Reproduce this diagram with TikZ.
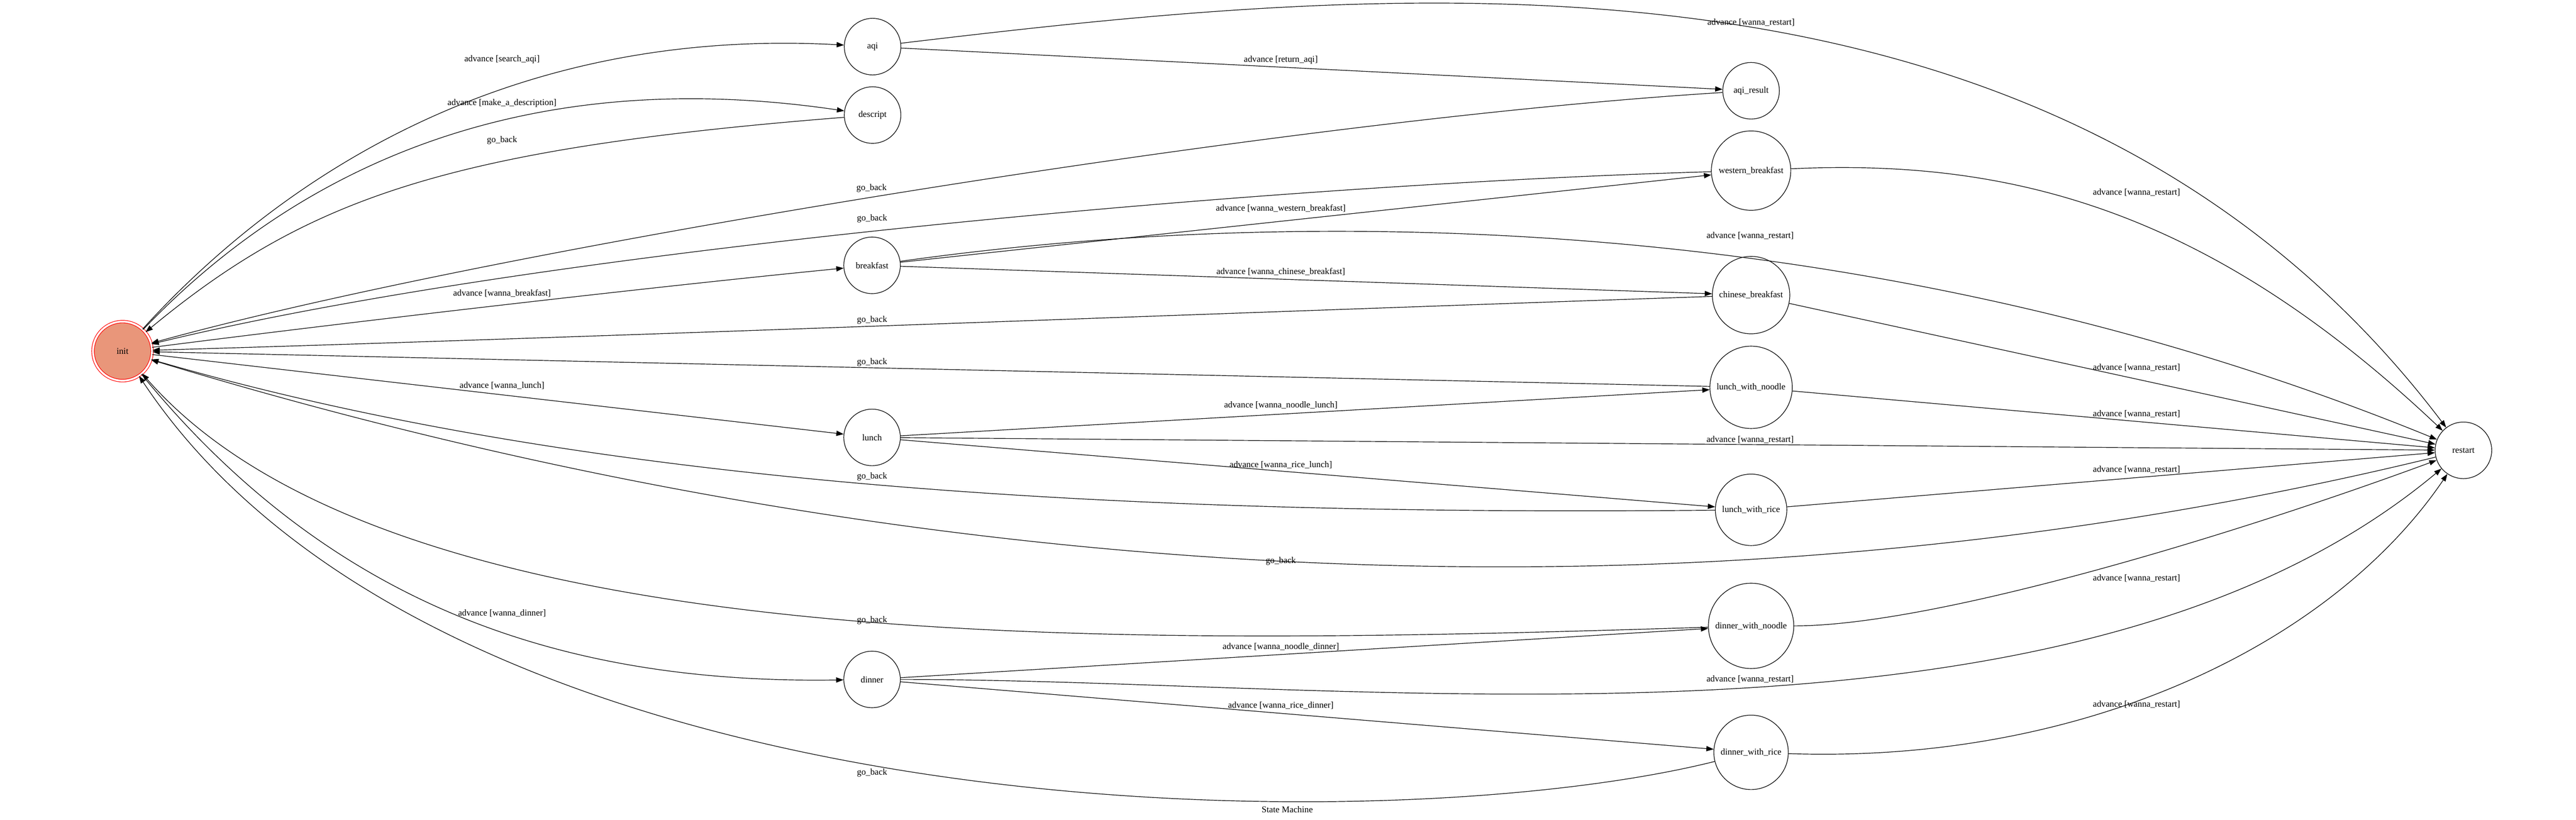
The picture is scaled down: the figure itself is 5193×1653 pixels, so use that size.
\documentclass[tikz,border=0pt]{standalone}
\usepackage{fontspec}
\setmainfont{Liberation Serif}
\usetikzlibrary{arrows.meta}
\definecolor{darksalmon}{RGB}{233,150,122}

\begin{document}
\begin{tikzpicture}[x=0.01cm,y=-0.01cm,line width=0.35pt,
                    >={Triangle[length=4.2pt,width=3pt]},
                    state node/.style={circle,draw,inner sep=0pt,font=\fontsize{5.1}{6}\selectfont},
                    init node/.style={state node,draw=red,fill=darksalmon,double=white,double distance=1.1pt},
                    edge label/.style={inner sep=0pt,font=\fontsize{5.1}{6}\selectfont}]
  \useasboundingbox (0,0) rectangle (5193,1653);

  % states
  \node[init node,minimum size=1.19cm] (init) at (247,708) {init};
  \node[state node,minimum size=1.14cm] (aqi) at (1759,94) {aqi};
  \node[state node,minimum size=1.14cm] (descript) at (1759,232) {descript};
  \node[state node,minimum size=1.14cm] (breakfast) at (1758,535) {breakfast};
  \node[state node,minimum size=1.14cm] (lunch) at (1758,882) {lunch};
  \node[state node,minimum size=1.14cm] (dinner) at (1758,1370) {dinner};
  \node[state node,minimum size=1.14cm] (aqi_result) at (3530,183) {aqi\_result};
  \node[state node,minimum size=1.60cm] (western_breakfast) at (3530,344) {western\_breakfast};
  \node[state node,minimum size=1.56cm] (chinese_breakfast) at (3530,595) {chinese\_breakfast};
  \node[state node,minimum size=1.66cm] (lunch_with_noodle) at (3530,781) {lunch\_with\_noodle};
  \node[state node,minimum size=1.44cm] (lunch_with_rice) at (3530,1028) {lunch\_with\_rice};
  \node[state node,minimum size=1.72cm] (dinner_with_noodle) at (3530,1262) {dinner\_with\_noodle};
  \node[state node,minimum size=1.50cm] (dinner_with_rice) at (3530,1517) {dinner\_with\_rice};
  \node[state node,minimum size=1.14cm] (restart) at (4966,908) {restart};

  % transitions
  \draw[->] (init) .. controls (500,430) and (950,50) .. (aqi);
  \draw[->] (init) .. controls (560,380) and (1000,120) .. (descript);
  \draw[->] (descript) .. controls (900,300) and (620,400) .. (init);
  \draw[->] (init) .. controls (700,650) and (1300,580) .. (breakfast);
  \draw[->] (init) -- (lunch);
  \draw[->] (init) .. controls (650,1200) and (1100,1380) .. (dinner);

  \draw[->] (aqi) -- (aqi_result);
  \draw[->] (aqi) .. controls (2800,-30) and (4150,-170) .. (restart);
  \draw[->] (aqi_result) .. controls (2600,240) and (1000,500) .. (init);

  \draw[->] (breakfast) -- (western_breakfast);
  \draw[->] (breakfast) -- (chinese_breakfast);
  \draw[->] (breakfast) .. controls (2500,430) and (3700,390) .. (restart);
  \draw[->] (western_breakfast) .. controls (2600,370) and (1100,500) .. (init);
  \draw[->] (western_breakfast) .. controls (4050,320) and (4450,420) .. (restart);
  \draw[->] (chinese_breakfast) .. controls (2500,630) and (1200,680) .. (init);
  \draw[->] (chinese_breakfast) -- (restart);

  \draw[->] (lunch) -- (lunch_with_noodle);
  \draw[->] (lunch) -- (restart);
  \draw[->] (lunch) -- (lunch_with_rice);
  \draw[->] (lunch_with_noodle) -- (init);
  \draw[->] (lunch_with_noodle) -- (restart);
  \draw[->] (lunch_with_rice) .. controls (2300,1040) and (1200,985) .. (init);
  \draw[->] (lunch_with_rice) -- (restart);

  \draw[->] (restart) .. controls (3400,1290) and (1800,1180) .. (init);

  \draw[->] (dinner) -- (dinner_with_noodle);
  \draw[->] (dinner) .. controls (2770,1370) and (4180,1565) .. (restart);
  \draw[->] (dinner) -- (dinner_with_rice);
  \draw[->] (dinner_with_noodle) .. controls (2300,1300) and (800,1340) .. (init);
  \draw[->] (dinner_with_noodle) .. controls (3900,1262) and (4500,1080) .. (restart);
  \draw[->] (dinner_with_rice) .. controls (2800,1700) and (900,1690) .. (init);
  \draw[->] (dinner_with_rice) .. controls (4200,1540) and (4700,1300) .. (restart);

  % labels
  \node[edge label] (l-search) at (1012,120) {advance [search\_aqi]};
  \node[edge label] (l-descr) at (1012,208) {advance [make\_a\_description]};
  \node[edge label] (l-back-descr) at (1012,283) {go\_back};
  \node[edge label] (l-breakfast) at (1012,592) {advance [wanna\_breakfast]};
  \node[edge label] (l-lunch) at (1012,778) {advance [wanna\_lunch]};
  \node[edge label] (l-dinner) at (1012,1237) {advance [wanna\_dinner]};

  \node[edge label] (l-back-aqi) at (1757,379) {go\_back};
  \node[edge label] (l-back-western) at (1758,441) {go\_back};
  \node[edge label] (l-back-chinese) at (1758,645) {go\_back};
  \node[edge label] (l-back-lnoodle) at (1758,731) {go\_back};
  \node[edge label] (l-back-lrice) at (1758,961) {go\_back};
  \node[edge label] (l-back-dnoodle) at (1758,1251) {go\_back};
  \node[edge label] (l-back-drice) at (1758,1558) {go\_back};

  \node[edge label] (l-return) at (2582,121) {advance [return\_aqi]};
  \node[edge label] (l-western) at (2582,420) {advance [wanna\_western\_breakfast]};
  \node[edge label] (l-chinese) at (2582,548) {advance [wanna\_chinese\_breakfast]};
  \node[edge label] (l-lnoodle) at (2582,817) {advance [wanna\_noodle\_lunch]};
  \node[edge label] (l-lrice) at (2582,938) {advance [wanna\_rice\_lunch]};
  \node[edge label] (l-back-restart) at (2582,1131) {go\_back};
  \node[edge label] (l-dnoodle) at (2582,1304) {advance [wanna\_noodle\_dinner]};
  \node[edge label] (l-drice) at (2582,1422) {advance [wanna\_rice\_dinner]};

  \node[edge label] (l-restart-aqi) at (3530,45) {advance [wanna\_restart]};
  \node[edge label] (l-restart-breakfast) at (3528,475) {advance [wanna\_restart]};
  \node[edge label] (l-restart-lunch) at (3528,887) {advance [wanna\_restart]};
  \node[edge label] (l-restart-dinner) at (3528,1370) {advance [wanna\_restart]};
  \node[edge label] (l-restart-western) at (4307,388) {advance [wanna\_restart]};
  \node[edge label] (l-restart-chinese) at (4307,741) {advance [wanna\_restart]};
  \node[edge label] (l-restart-lnoodle) at (4307,835) {advance [wanna\_restart]};
  \node[edge label] (l-restart-lrice) at (4307,947) {advance [wanna\_restart]};
  \node[edge label] (l-restart-dnoodle) at (4307,1166) {advance [wanna\_restart]};
  \node[edge label] (l-restart-drice) at (4307,1420) {advance [wanna\_restart]};

  \node[edge label] (title) at (2595,1632) {State Machine};
\end{tikzpicture}
\end{document}
